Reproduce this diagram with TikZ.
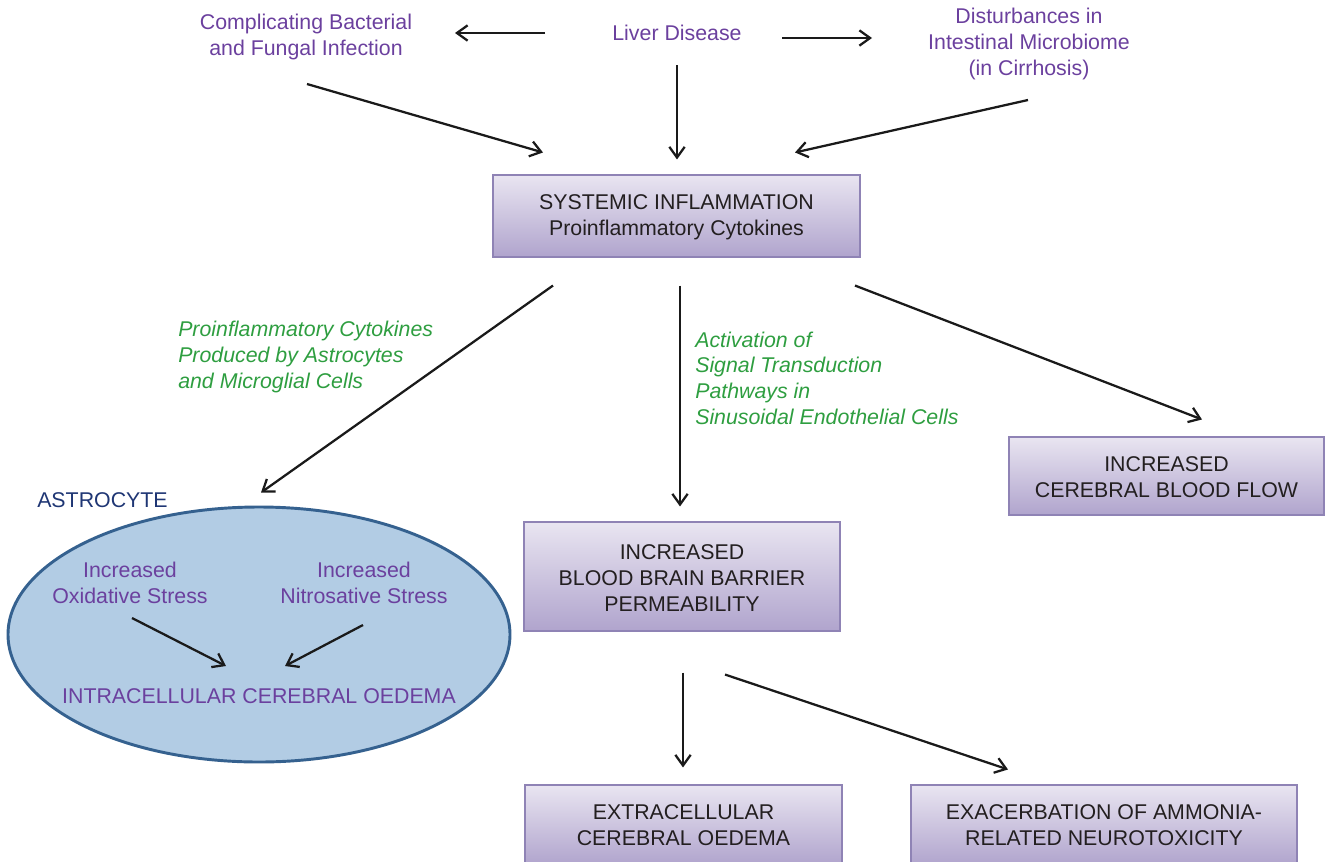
\documentclass[tikz,border=0pt]{standalone}
\usepackage{fontspec}
\setmainfont{Liberation Sans}
\usetikzlibrary{arrows.meta,shapes.geometric}

\definecolor{boxtop}{HTML}{E9E5F1}
\definecolor{boxbot}{HTML}{B0A4CD}
\definecolor{boxline}{HTML}{8F83B5}
\definecolor{boxtext}{HTML}{231F20}
\definecolor{purp}{HTML}{6B409E}
\definecolor{grn}{HTML}{2E9E40}
\definecolor{navy}{HTML}{1F3674}
\definecolor{cellfill}{HTML}{B2CCE4}
\definecolor{cellline}{HTML}{35618F}
\definecolor{arrowcol}{HTML}{1A1A1A}

\tikzset{
  txt/.style={font=\fontsize{16}{19.5}\selectfont, align=center, inner sep=0pt},
  purptext/.style={txt, text=purp},
  grntext/.style={txt, text=grn, align=left, anchor=west, font=\fontsize{16}{19.2}\selectfont\itshape},
  fbox/.style={txt, text=boxtext, draw=boxline, line width=0.8pt,
    top color=boxtop, bottom color=boxbot},
  arr/.style={draw=arrowcol, line width=1.7pt,
    -{Straight Barb[length=8pt,width=11.5pt,line width=1.7pt]}},
}

\begin{document}
\begin{tikzpicture}[x=0.75pt,y=-0.75pt]
\useasboundingbox (0,0) rectangle (1325,861);
\begin{scope}
\clip (0,0) rectangle (1325,861);

% top row
\node[purptext] (liver) at (677,33) {Liver Disease};
\node[purptext] (compl) at (306,37) {Complicating Bacterial\\and Fungal Infection};
\node[purptext] (dist) at (1029,44) {Disturbances in\\Intestinal Microbiome\\(in Cirrhosis)};

% central box
\node[fbox, minimum width=275.25pt, minimum height=61.5pt] (sys) at (676.5,216)
  {\rule{0pt}{13.5pt}SYSTEMIC INFLAMMATION\\Proinflammatory Cytokines};

% pathway labels
\node[grntext] (lblA) at (178,357) {Proinflammatory Cytokines\\Produced by Astrocytes\\and Microglial Cells};
\node[grntext] (lblB) at (695,378) {Activation of\\Signal Transduction\\Pathways in\\Sinusoidal Endothelial Cells};

% effect boxes
\node[fbox, minimum width=236.25pt, minimum height=58.5pt] (cbf) at (1166.5,476)
  {\rule{0pt}{13.5pt}INCREASED\\CEREBRAL BLOOD FLOW};
\node[fbox, minimum width=237pt, minimum height=81.75pt] (bbb) at (682,576.5)
  {\rule{0pt}{13.5pt}INCREASED\\BLOOD BRAIN BARRIER\\PERMEABILITY};
\node[fbox, minimum width=237.75pt, minimum height=60pt] (ext) at (683.5,825)
  {EXTRACELLULAR\\CEREBRAL OEDEMA};
\node[fbox, minimum width=289.5pt, minimum height=60pt] (exa) at (1104,825)
  {EXACERBATION OF AMMONIA-\\RELATED NEUROTOXICITY};

% astrocyte
\node[ellipse, draw=cellline, fill=cellfill, line width=2.2pt, inner sep=0pt,
  minimum width=376.5pt, minimum height=191.25pt] (astro) at (259,634.5) {};
\node[txt, text=navy, anchor=west] (astlbl) at (37,500) {ASTROCYTE};
\node[purptext] (oxid) at (130,583) {Increased\\Oxidative Stress};
\node[purptext] (nitro) at (364,583) {Increased\\Nitrosative Stress};
\node[purptext] (intra) at (259,696) {INTRACELLULAR CEREBRAL OEDEMA};

% connectors
\draw[arr] ([shift={(-132,0)}]liver.center) -- ([shift={(149,-4)}]compl.center);
\draw[arr] ([shift={(105,5)}]liver.center) -- ([shift={(-157,-6)}]dist.center);
\draw[arr] ([shift={(0,32)}]liver.center) -- ([shift={(0.5,-15)}]sys.north);
\draw[arr] ([shift={(1,47)}]compl.center) -- ([shift={(-133.5,-22)}]sys.north);
\draw[arr] ([shift={(-1,56)}]dist.center) -- ([shift={(118.5,-22)}]sys.north);

\draw[arr] ([shift={(-123.5,28)}]sys.south) -- ([shift={(2,-13)}]astro.north);
\draw[arr] ([shift={(3.5,28)}]sys.south) -- ([shift={(-2,-15)}]bbb.north);
\draw[arr] ([shift={(178.5,28)}]sys.south) -- ([shift={(35.5,-17)}]cbf.north);

\draw[arr] ([shift={(2,35)}]oxid.center) -- ([shift={(-33,-30)}]intra.center);
\draw[arr] ([shift={(-1,42)}]nitro.center) -- ([shift={(26,-30)}]intra.center);

\draw[arr] ([shift={(1,41)}]bbb.south) -- ([shift={(-0.5,-17)}]ext.north);
\draw[arr] ([shift={(43,43)}]bbb.south) -- ([shift={(-96,-15)}]exa.north);
\end{scope}
\end{tikzpicture}
\end{document}
